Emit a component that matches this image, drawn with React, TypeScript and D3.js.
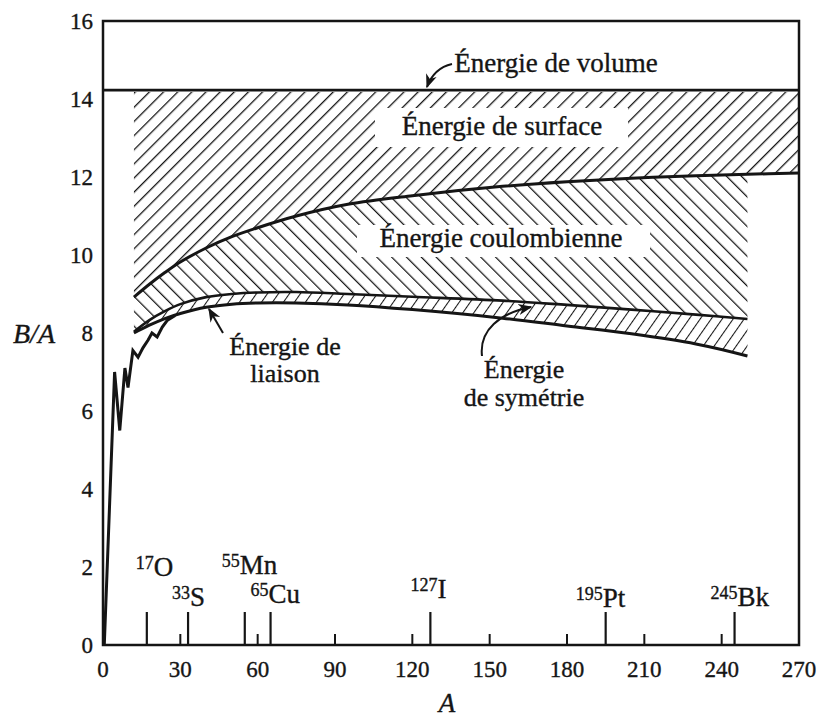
import React from 'react';
import * as d3 from 'd3';

// B/A en MeV en fonction du nombre de masse A
const massA = [12, 18, 24, 30, 40, 50, 60, 75, 95, 120, 155, 180, 205, 230, 250];
const surfaceA = [...massA, 270];
const surfaceB = [8.92, 9.25, 9.55, 9.82, 10.18, 10.47, 10.7, 11.0, 11.3, 11.52, 11.76, 11.88, 11.97, 12.03, 12.07, 12.1];
const coulombB = [8.03, 8.33, 8.56, 8.74, 8.92, 9.0, 9.04, 9.05, 9.0, 8.93, 8.83, 8.72, 8.6, 8.47, 8.36];
const liaisonB = [8.0, 8.2, 8.37, 8.5, 8.66, 8.74, 8.77, 8.77, 8.72, 8.6, 8.38, 8.18, 7.98, 7.72, 7.41];
const volumeB = 14.23;

// courbe expérimentale des noyaux légers
const empiricalA = [0.5, 4.5, 6.5, 8.5, 9.7, 11.6, 13.6, 15.5, 17.5, 19, 21, 23, 25, 28];
const empiricalB = [0, 7.0, 5.5, 7.1, 6.6, 7.55, 7.38, 7.62, 7.82, 8.0, 7.9, 8.15, 8.33, 8.45];

// noyaux repérés sur l'axe
const isotopeA = [17, 33, 55, 65, 127, 195, 245];
const isotopeMass = ['17', '33', '55', '65', '127', '195', '245'];
const isotopeSymbol = ['O', 'S', 'Mn', 'Cu', 'I', 'Pt', 'Bk'];

const xTicks = [0, 30, 60, 90, 120, 150, 180, 210, 240, 270];
const yTicks = [0, 2, 4, 6, 8, 10, 12, 14, 16];

const W = 818;
const H = 717;
const ink = '#151515';
const serif = "'Liberation Serif', 'Times New Roman', 'DejaVu Serif', serif";

// décalage / ligne de base des étiquettes d'isotopes
const isoDx = [7, 2, -5, -2, 7, -3, 3];
const isoBase = [576, 606, 574, 603, 598, 607, 606];

const App = () => {
  const x = d3.scaleLinear().domain([0, 270]).range([103, 799]);
  const y = d3.scaleLinear().domain([0, 16]).range([645, 21]);

  const line = d3.line<[number, number]>()
    .x(d => x(d[0]))
    .y(d => y(d[1]))
    .curve(d3.curveCatmullRom);

  const surfacePts = surfaceA.map((a, i) => [a, surfaceB[i]] as [number, number]);
  const coulombPts = massA.map((a, i) => [a, coulombB[i]] as [number, number]);
  const liaisonPts = massA.map((a, i) => [a, liaisonB[i]] as [number, number]);
  const empiricalPts = empiricalA.map((a, i) => [a, empiricalB[i]] as [number, number]);

  const surfaceArea = d3.area<[number, number]>()
    .x(d => x(d[0]))
    .y0(d => y(d[1]))
    .y1(() => y(volumeB) + 2)
    .curve(d3.curveCatmullRom);

  const bandArea = (top: number[], bottom: number[]) =>
    d3.area<number>()
      .x(a => x(a))
      .y0((a, i) => y(bottom[i]))
      .y1((a, i) => y(top[i]))
      .curve(d3.curveCatmullRom)(massA) || '';

  const empLine = d3.line<[number, number]>().x(d => x(d[0])).y(d => y(d[1]));

  // texte un peu « gras » comme l'impression scannée
  const txt = { fontFamily: serif, fill: ink, stroke: ink, strokeWidth: 0.35 } as React.CSSProperties;

  return (
    <svg width={W} height={H} style={{ position: 'absolute', left: 0, top: 0, background: '#fff' }}>
      <defs>
        <pattern id="hatchFwd" patternUnits="userSpaceOnUse" width={10} height={10} patternTransform="rotate(45)">
          <line x1={0} y1={0} x2={0} y2={10} stroke={ink} strokeWidth={2.6} />
        </pattern>
        <pattern id="hatchBack" patternUnits="userSpaceOnUse" width={10.5} height={10.5} patternTransform="rotate(-45)">
          <line x1={0} y1={0} x2={0} y2={10.5} stroke={ink} strokeWidth={2.5} />
        </pattern>
        <pattern id="hatchSym" patternUnits="userSpaceOnUse" width={9} height={9} patternTransform="rotate(35)">
          <line x1={0} y1={0} x2={0} y2={9} stroke={ink} strokeWidth={2.1} />
        </pattern>
        <marker id="head" viewBox="0 0 10 10" refX={9} refY={5} markerWidth={7} markerHeight={7} orient="auto">
          <path d="M0,1 L10,5 L0,9 L3,5 Z" fill={ink} />
        </marker>
      </defs>
      <rect width={W} height={H} fill="#fff" />

      {/* zones hachurées */}
      <path d={surfaceArea(surfacePts) || ''} fill="url(#hatchFwd)" />
      <path d={bandArea(surfaceB.slice(0, massA.length), coulombB)} fill="url(#hatchBack)" />
      <path d={bandArea(coulombB, liaisonB)} fill="url(#hatchSym)" />

      {/* fonds blancs des étiquettes */}
      <rect x={375} y={108} width={253} height={39} fill="#fff" />
      <rect x={357} y={225} width={293} height={32} fill="#fff" />

      {/* cadre */}
      <rect x={x(0)} y={y(16)} width={x(270) - x(0)} height={y(0) - y(16)} fill="none" stroke={ink} strokeWidth={2.5} />

      {/* énergie de volume */}
      <line x1={x(0)} x2={x(270)} y1={y(volumeB)} y2={y(volumeB)} stroke={ink} strokeWidth={2.8} />

      {/* courbes */}
      <path d={line(surfacePts) || ''} fill="none" stroke={ink} strokeWidth={3} />
      <path d={line(coulombPts) || ''} fill="none" stroke={ink} strokeWidth={2.6} />
      <path d={line(liaisonPts) || ''} fill="none" stroke={ink} strokeWidth={3} />
      <path d={empLine(empiricalPts) || ''} fill="none" stroke={ink} strokeWidth={3} strokeLinejoin="miter" />

      {/* graduations */}
      {xTicks.slice(1, -1).map(t => (
        <line key={t} x1={x(t)} x2={x(t)} y1={y(0)} y2={y(0) - 11} stroke={ink} strokeWidth={2} />
      ))}
      {isotopeA.map(a => (
        <line key={a} x1={x(a)} x2={x(a)} y1={y(0)} y2={y(0) - 33} stroke={ink} strokeWidth={2.2} />
      ))}

      <g style={txt}>
        {xTicks.map(t => (
          <text key={t} x={x(t)} y={677} fontSize={23} textAnchor="middle" style={txt}>{t}</text>
        ))}
        {yTicks.map(t => (
          <text key={t} x={93} y={y(t)} dy="0.35em" fontSize={23} textAnchor="end" style={txt}>{t}</text>
        ))}
        <text x={13} y={343} fontSize={28} fontStyle="italic" style={txt}>B/A</text>
        <text x={447} y={712} fontSize={27} fontStyle="italic" textAnchor="middle" style={txt}>A</text>

        {isotopeA.map((a, i) => (
          <g key={a}>
            <text x={x(a) + isoDx[i]} y={isoBase[i] - 7} fontSize={18} textAnchor="end" style={txt}>{isotopeMass[i]}</text>
            <text x={x(a) + isoDx[i]} y={isoBase[i]} fontSize={27} style={txt}>{isotopeSymbol[i]}</text>
          </g>
        ))}

        <text x={556} y={72} fontSize={27} textAnchor="middle" style={txt}>Énergie de volume</text>
        <text x={502} y={135} fontSize={27} textAnchor="middle" style={txt}>Énergie de surface</text>
        <text x={501} y={247} fontSize={27} textAnchor="middle" style={txt}>Énergie coulombienne</text>
        <text x={285} y={355} fontSize={26} textAnchor="middle" style={txt}>Énergie de</text>
        <text x={285} y={382} fontSize={26} textAnchor="middle" style={txt}>liaison</text>
        <text x={524} y={378} fontSize={26} textAnchor="middle" style={txt}>Énergie</text>
        <text x={524} y={406} fontSize={26} textAnchor="middle" style={txt}>de symétrie</text>
      </g>

      {/* flèches */}
      <path d="M452,64 Q434,68 427,87" fill="none" stroke={ink} strokeWidth={2} markerEnd="url(#head)" />
      <path d="M223,333 L209,309" fill="none" stroke={ink} strokeWidth={2} markerEnd="url(#head)" />
      <path d="M482,356 C479,330 500,313 531,307" fill="none" stroke={ink} strokeWidth={2} markerEnd="url(#head)" />
    </svg>
  );
};

export default App;
